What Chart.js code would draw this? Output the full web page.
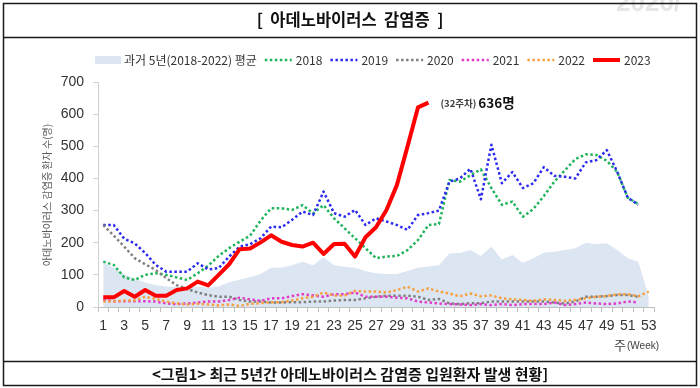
<!DOCTYPE html>
<html>
<head>
<meta charset="utf-8">
<script src="https://cdn.jsdelivr.net/npm/chart.js@4.4.1/dist/chart.umd.min.js"></script>
<style>
  html, body { margin: 0; padding: 0; background: #fff; }
  canvas { display: block; }
</style>
</head>
<body>
<canvas id="c" width="700" height="388" style="width:700px;height:388px"></canvas>
<script>
// 주차 (1~53)
const weeks = ['1','2','3','4','5','6','7','8','9','10','11','12','13','14','15','16','17','18','19','20',
  '21','22','23','24','25','26','27','28','29','30','31','32','33','34','35','36','37','38','39','40',
  '41','42','43','44','45','46','47','48','49','50','51','52','53'];

// 과거 5년 평균
const avg5 = [138,122,102,88,76,68,64,62,62,64,60,64,77,85,93,103,122,122,130,141,
  130,155,130,125,122,112,105,103,103,112,122,126,130,167,168,177,159,188,148,162,
  138,152,169,172,177,183,200,195,198,177,152,141,32];

const y2018 = [141,131,92,84,100,105,100,92,84,105,128,159,183,203,222,269,307,307,302,317,
  291,317,276,245,214,183,152,157,159,177,208,255,258,395,390,410,428,370,318,328,
  281,305,345,390,425,460,475,473,455,420,340,320];

const y2019 = [255,255,212,198,168,131,110,110,110,136,117,121,157,188,195,214,250,248,271,297,
  286,359,292,281,302,255,276,266,255,240,286,292,300,390,400,430,335,505,385,420,
  370,385,435,408,405,400,450,457,488,420,340,318];

const y2020 = [255,222,188,152,133,115,90,68,56,45,37,32,32,22,17,17,14,14,15,15,
  17,17,20,22,22,27,32,35,35,35,32,22,25,11,9,12,12,17,17,17,
  17,17,17,14,11,17,32,32,34,37,37,32];

const y2021 = [22,18,18,18,18,17,11,9,11,14,17,17,22,29,24,19,27,27,34,40,
  36,32,40,40,45,32,32,32,29,27,17,14,11,9,8,6,9,6,9,6,
  9,9,9,14,6,9,14,11,9,11,17,14];

const y2022 = [17,17,20,20,32,25,17,11,8,10,8,5,8,3,10,12,15,15,20,27,
  32,45,36,36,50,48,48,45,53,63,48,58,48,42,33,42,33,36,27,24,
  22,19,24,22,19,22,27,32,34,40,40,33,48];

const y2023 = [30,30,50,32,53,35,35,53,58,79,67,100,133,180,182,201,223,203,193,188,
  200,165,196,197,157,217,248,302,380,499,621,636];

const KR = '"Noto Sans CJK KR", "Noto Sans", sans-serif';
const NUM = '"Liberation Sans", "Noto Sans", sans-serif';

// 테두리, 제목, 범례, 주석 등
const decor = {
  id: 'decor',
  beforeDraw(chart) {
    const ctx = chart.ctx;
    ctx.save();
    ctx.fillStyle = '#fff';
    ctx.fillRect(0, 0, chart.width, chart.height);
    ctx.fillStyle = '#e6e6e6';
    ctx.font = 'bold 26px ' + NUM;
    ctx.fillText('2020/', 616, 11);
    ctx.restore();
  },
  afterDraw(chart) {
    const ctx = chart.ctx;
    ctx.save();

    // 표 테두리
    ctx.strokeStyle = '#1a1a1a';
    ctx.lineWidth = 1.5;
    ctx.strokeRect(3.5, 3.5, 693, 382);
    ctx.beginPath();
    ctx.moveTo(3.5, 37.5); ctx.lineTo(696.5, 37.5);
    ctx.moveTo(3.5, 361.5); ctx.lineTo(696.5, 361.5);
    ctx.stroke();

    // 제목
    ctx.fillStyle = '#111';
    ctx.textAlign = 'center';
    ctx.textBaseline = 'middle';
    ctx.font = 'bold 16.5px ' + KR;
    ctx.fillText('[  아데노바이러스  감염증  ]', 350, 20);

    // 하단 설명
    ctx.font = 'bold 15px ' + KR;
    ctx.fillText('<그림1> 최근 5년간 아데노바이러스 감염증 입원환자 발생 현황]', 350, 374);

    // y축 제목
    ctx.save();
    ctx.translate(47, 195);
    ctx.rotate(-Math.PI / 2);
    ctx.fillStyle = '#595959';
    ctx.font = '10px ' + KR;
    ctx.fillText('아데노바이러스 감염증 환자 수(명)', 0, 0);
    ctx.restore();

    // x축 단위
    ctx.textAlign = 'left';
    ctx.fillStyle = '#404040';
    ctx.font = '13px ' + KR;
    ctx.fillText('주', 614, 345);
    ctx.font = '10px ' + NUM;
    ctx.fillText('(Week)', 627, 346);

    // 범례
    let x = 95;
    const ly = 60;
    ctx.font = '12px ' + KR;
    chart.data.datasets.forEach(function (ds) {
      if (ds.fill) {
        ctx.fillStyle = ds.backgroundColor;
        ctx.fillRect(x, ly - 4, 26, 8);
        x += 29;
      } else {
        ctx.strokeStyle = ds.borderColor;
        ctx.lineWidth = ds.borderWidth;
        ctx.setLineDash(ds.borderDash || []);
        ctx.beginPath();
        ctx.moveTo(x, ly); ctx.lineTo(x + 27, ly);
        ctx.stroke();
        ctx.setLineDash([]);
        x += 31;
      }
      ctx.fillStyle = '#333';
      ctx.fillText(ds.label, x, ly);
      x += ctx.measureText(ds.label).width + 8;
    });

    // 32주차 주석
    const meta = chart.getDatasetMeta(6);
    const pt = meta.data[meta.data.length - 1];
    ctx.fillStyle = '#404040';
    ctx.font = 'bold 9.5px ' + KR;
    ctx.fillText('(32주차)', pt.x + 12, pt.y + 1);
    const w = ctx.measureText('(32주차)').width;
    ctx.fillStyle = '#111';
    ctx.font = 'bold 13.5px ' + KR;
    ctx.fillText('636명', pt.x + 14 + w, pt.y);

    ctx.restore();
  }
};

const dotted = [2.5, 2.5];

new Chart(document.getElementById('c'), {
  type: 'line',
  data: {
    labels: weeks,
    datasets: [
      { label: '과거 5년(2018-2022) 평균', data: avg5, fill: 'origin', backgroundColor: '#dce6f2',
        borderWidth: 0, borderColor: 'rgba(0,0,0,0)', pointRadius: 0, order: 10 },
      { label: '2018', data: y2018, borderColor: '#1fb35a', borderWidth: 2.5, borderDash: dotted, fill: false, pointRadius: 0, order: 5 },
      { label: '2019', data: y2019, borderColor: '#2b2bf0', borderWidth: 2.5, borderDash: dotted, fill: false, pointRadius: 0, order: 4 },
      { label: '2020', data: y2020, borderColor: '#808080', borderWidth: 2.5, borderDash: dotted, fill: false, pointRadius: 0, order: 3 },
      { label: '2021', data: y2021, borderColor: '#e03cc8', borderWidth: 2.5, borderDash: dotted, fill: false, pointRadius: 0, order: 2 },
      { label: '2022', data: y2022, borderColor: '#f7a040', borderWidth: 2.5, borderDash: dotted, fill: false, pointRadius: 0, order: 1 },
      { label: '2023', data: y2023, borderColor: '#ff0000', borderWidth: 4, fill: false, pointRadius: 0, order: 0 }
    ]
  },
  options: {
    responsive: false,
    devicePixelRatio: 1,
    animation: false,
    layout: { padding: { left: 58, right: 46, top: 82, bottom: 51 } },
    elements: { line: { tension: 0, borderCapStyle: 'butt', borderJoinStyle: 'round' } },
    plugins: { legend: { display: false }, tooltip: { enabled: false } },
    scales: {
      x: {
        offset: true,
        grid: { offset: true, drawOnChartArea: false, tickLength: 5, color: '#bfbfbf' },
        border: { color: '#bfbfbf' },
        ticks: {
          autoSkip: false, maxRotation: 0, minRotation: 0, padding: 6,
          color: '#333', font: { family: NUM, size: 14 },
          callback: function (v, i) { return i % 2 === 0 ? weeks[i] : ''; }
        },
        afterFit: function (s) { s.height = 30; }
      },
      y: {
        min: 0, max: 700,
        grid: { drawOnChartArea: false, tickLength: 5, color: '#d0d0d0' },
        border: { color: '#d0d0d0' },
        ticks: { stepSize: 100, padding: 9, color: '#333', font: { family: NUM, size: 14 } },
        afterFit: function (s) { s.width = 40; }
      }
    }
  },
  plugins: [decor]
});
</script>
</body>
</html>
